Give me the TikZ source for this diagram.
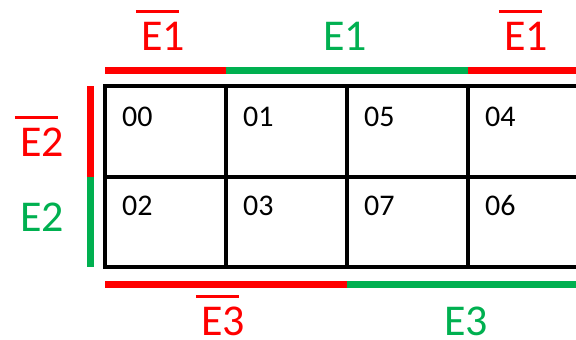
\documentclass[tikz,border=0pt]{standalone}
\usepackage{fontspec}
\setmainfont{Carlito}
\usetikzlibrary{calc}
\definecolor{kred}{RGB}{255,0,0}
\definecolor{kgreen}{RGB}{0,176,80}
\begin{document}
\begin{tikzpicture}[x=1pt,y=-1pt,
  gridline/.style={line width=4pt, black, line join=miter},
  bar/.style={line width=7pt},
  lbl/.style={inner sep=0pt, anchor=base, font=\fontsize{44}{44}\selectfont},
  cell/.style={inner sep=0pt, anchor=base west, font=\fontsize{30}{30}\selectfont},
  obar/.style={line width=3pt}]
\useasboundingbox (0,0) rectangle (576,340);
\clip (0,0) rectangle (576,340);
% grid corners
\coordinate (tl) at (105,86);
\coordinate (ml) at (105,177);
\coordinate (bl) at (105,267);
\coordinate (tr) at (600,86);
\coordinate (mr) at (600,177);
\coordinate (br) at (600,267);
% grid
\draw[gridline] (tr) -- (tl) -- (bl) -- (br);
\draw[gridline] (ml) -- (mr);
\foreach \x in {226,347,468}{
  \draw[gridline] (\x,86) -- (\x,267);
}
% top bar
\draw[bar,kred] (105,70) -- (226,70);
\draw[bar,kgreen] (226,70) -- (468,70);
\draw[bar,kred] (468,70) -- (600,70);
% left bar
\draw[bar,kred] (90,86) -- (90,177);
\draw[bar,kgreen] (90,177) -- (90,267);
% bottom bar
\draw[bar,kred] (105,284) -- (347,284);
\draw[bar,kgreen] (347,284) -- (600,284);
% labels
\node[lbl,text=kred] (e1a) at (163,50) {E1};
\node[lbl,text=kgreen] (e1b) at (345,50) {E1};
\node[lbl,text=kred] (e1c) at (526,50) {E1};
\node[lbl,text=kred] (e2a) at (42,156) {E2};
\node[lbl,text=kgreen] (e2b) at (42,231) {E2};
\node[lbl,text=kred] (e3a) at (223,335) {E3};
\node[lbl,text=kgreen] (e3b) at (466,335) {E3};
\foreach \n in {e1a,e1c,e2a,e3a}{
  \draw[obar,kred] ($(\n.base west)+(-5,-39)$) -- ($(\n.base east)+(-6,-39)$);
}
% cells
\node[cell] (c00) at (122,126) {00};
\node[cell] (c01) at (243,126) {01};
\node[cell] (c05) at (364,126) {05};
\node[cell] (c04) at (485,126) {04};
\node[cell] (c02) at (122,215) {02};
\node[cell] (c03) at (243,215) {03};
\node[cell] (c07) at (364,215) {07};
\node[cell] (c06) at (485,215) {06};
\end{tikzpicture}
\end{document}
